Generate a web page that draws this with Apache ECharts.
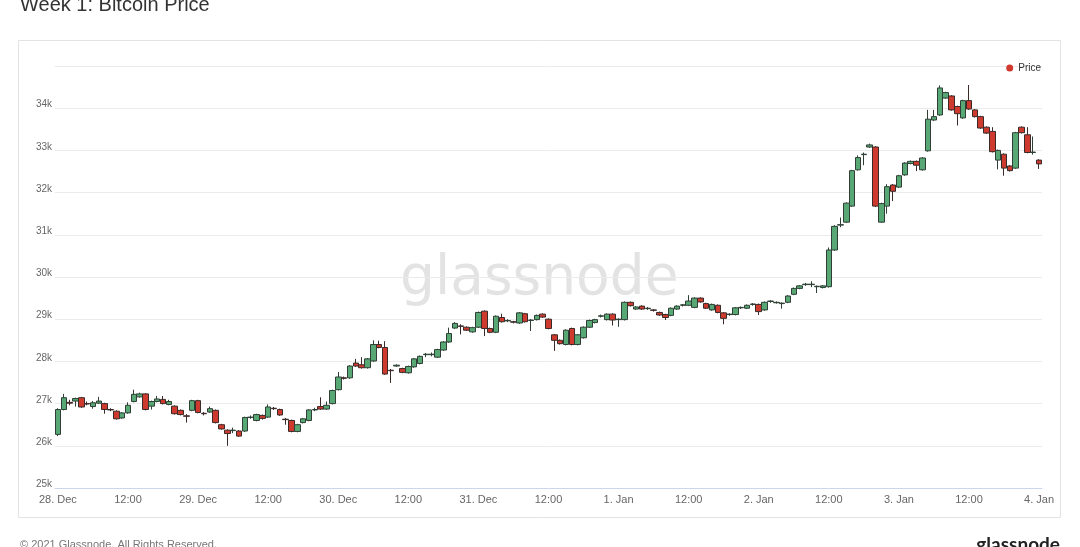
<!DOCTYPE html>
<html><head><meta charset="utf-8">
<script src="https://cdn.jsdelivr.net/npm/echarts@6/dist/echarts.min.js"></script>
<style>html,body{margin:0;padding:0;background:#fff;}#c{width:1080px;height:547px;}</style>
</head><body><div id="c"></div>
<script>
// Hourly candles from 28 Dec 00:00 to 4 Jan 00:00
const tickLabels = ['28. Dec','12:00','29. Dec','12:00','30. Dec','12:00','31. Dec','12:00','1. Jan','12:00','2. Jan','12:00','3. Jan','12:00','4. Jan'];
const opens = [26270,26860,27030,27060,27140,27000,26930,27010,27000,26860,26820,26660,26780,27050,27160,27230,26940,27050,27100,26980,
26940,26840,26710,26840,27070,26770,26800,26840,26500,26370,26360,26350,26350,26670,26600,26720,26680,26890,26860,26630,
26600,26340,26550,26600,26850,26930,26870,27000,27330,27610,27610,27960,27920,27850,28010,28400,28330,27790,27890,27830,
27730,27870,27950,28160,28160,28100,28270,28460,28790,28840,28810,28700,28810,29190,28780,28690,29040,28960,28940,28910,
29130,28970,28990,29120,29000,28630,28500,28400,28780,28400,28560,28810,28920,29070,28990,29120,28990,28990,29400,29240,
29310,29250,29220,29160,29110,29090,29240,29330,29330,29280,29500,29370,29220,29330,29150,29110,29110,29270,29260,29350,
29350,29220,29420,29390,29370,29400,29590,29730,29820,29820,29770,29750,29770,30640,31230,31300,31680,32540,32900,33080,
33080,31300,31680,32180,32130,32420,32690,32740,32540,32990,33720,33840,34240,34290,34040,33770,34180,33960,33800,33550,
33450,32770,32910,32630,32580,33550,33370,32950,32770];
const closes = [26860,27140,27010,27120,26920,26990,27020,27060,26860,26850,26640,26780,26960,27220,27230,26860,27050,27110,27000,27050,
26760,26740,26700,27070,26790,26760,26880,26550,26400,26290,26370,26230,26670,26680,26740,26650,26920,26880,26730,26620,
26340,26500,26640,26850,26860,26870,26960,27310,27630,27600,27890,27890,27850,28060,28400,28330,27700,27780,27910,27740,
27880,28060,28120,28170,28170,28280,28460,28660,28900,28830,28740,28800,29160,28780,28690,29070,28940,28970,28930,29150,
28940,28980,29090,29050,28780,28500,28420,28740,28400,28630,28810,28970,28990,29080,29120,28980,29000,29400,29320,29290,
29240,29260,29210,29100,29040,29260,29310,29340,29430,29500,29410,29260,29350,29160,29020,29120,29270,29280,29330,29360,
29180,29400,29430,29400,29380,29550,29730,29790,29830,29830,29780,29790,30640,31200,31240,31750,32520,32830,32910,33130,
31680,31740,32140,32030,32400,32700,32740,32650,32820,33740,33800,34480,34370,33960,33870,34180,33980,33800,33530,33410,
32970,33000,32580,32520,33420,33420,32950,32960,32680];
const lows = [26230,26840,26960,26930,26900,26960,26880,26990,26760,26820,26620,26640,26760,27030,27140,26840,26860,27030,26980,26960,
26740,26720,26550,26820,26770,26720,26780,26530,26380,26000,26300,26210,26330,26640,26580,26620,26660,26850,26710,26500,
26320,26320,26530,26580,26820,26850,26850,26980,27310,27570,27590,27870,27830,27830,27990,28310,27680,27490,27870,27720,
27710,27850,27930,28100,28120,28080,28250,28440,28770,28640,28720,28680,28790,28600,28670,28670,28920,28930,28900,28890,
28920,28720,28970,29030,28760,28250,28400,28380,28380,28380,28540,28790,28900,29040,28970,28850,28820,28970,29300,29220,
29220,29220,29180,29080,28980,29070,29220,29300,29310,29260,29390,29240,29200,29140,28880,29080,29090,29240,29240,29320,
29100,29200,29390,29370,29250,29380,29570,29710,29790,29760,29620,29730,29750,30620,31180,31280,31660,32520,32650,33060,
31660,31280,31500,31800,32110,32400,32670,32510,32520,32970,33700,33820,34220,33940,33590,33750,33960,33780,33510,33390,
32950,32550,32400,32500,32560,33400,32930,32900,32560];
const highs = [26890,27230,27090,27140,27160,27050,27060,27160,27020,26890,26840,26800,27030,27330,27260,27250,27070,27180,27180,27090,
26960,26860,26750,27090,27090,26800,26930,26860,26520,26390,26430,26370,26690,26720,26760,26740,26980,26920,26880,26660,
26620,26520,26660,26870,26900,27150,27050,27330,27750,27640,27910,28060,28100,28080,28500,28490,28480,27820,27930,27850,
27900,28080,28140,28200,28210,28300,28480,28800,28930,28880,28830,28820,29180,29210,28800,29090,29130,29000,28960,29170,
29150,29000,29110,29140,29020,28650,28520,28760,28800,28650,28830,28990,29010,29110,29140,29140,29020,29420,29420,29310,
29330,29290,29240,29180,29130,29280,29330,29360,29570,29520,29520,29390,29370,29350,29170,29140,29290,29300,29350,29380,
29370,29420,29450,29420,29400,29570,29750,29810,29860,29900,29800,29810,30700,31230,31410,31770,32540,32880,32950,33160,
33100,31760,32200,32200,32420,32720,32760,32760,32840,33960,33960,34540,34390,34310,34060,34200,34550,33980,33820,33570,
33550,33020,32930,32650,33440,33570,33550,33330,32790];

const categories = [];
for (let i = 0; i < opens.length; i++) categories.push('h' + i);
const candleData = opens.map((o, i) => [o, closes[i], lows[i], highs[i]]);

const chart = echarts.init(document.getElementById('c'), null, {renderer: 'canvas'});
const FONT = 'Arial, "Liberation Sans", sans-serif';
chart.setOption({
  animation: false,
  backgroundColor: '#fff',
  textStyle: {fontFamily: FONT},
  graphic: [
    {type: 'text', left: 20, top: -5, z: 10, style: {text: 'Week 1: Bitcoin Price', fontSize: 20, fill: '#333', fontFamily: FONT}},
    {type: 'rect', shape: {x: 18.5, y: 40.5, width: 1042, height: 477}, style: {fill: 'none', stroke: '#e3e3e3', lineWidth: 1}, z: 0},
    {type: 'text', left: 400, top: 252, z: 0, style: {text: 'glassnode', fontSize: 55, fill: '#e3e3e3', fontFamily: '"DejaVu Sans", sans-serif'}},
    {type: 'text', left: 20, top: 539, style: {text: '\u00a9 2021 Glassnode. All Rights Reserved.', fontSize: 11, fill: '#777', fontFamily: FONT}},
    {type: 'text', right: 20, top: 535, style: {text: 'glassnode', fontSize: 19, fontWeight: 'bold', fill: '#222', fontFamily: 'Lato, sans-serif'}}
  ],
  legend: {
    show: true, right: 34, top: 58, icon: 'circle', itemWidth: 7, itemHeight: 7, itemGap: 4,
    textStyle: {fontSize: 10, color: '#333', fontFamily: FONT},
    data: [{name: 'Price', itemStyle: {color: '#d0392d', borderWidth: 0}}]
  },
  grid: {left: 55, right: 38, top: 66, bottom: 59, outerBoundsMode: 'none'},
  xAxis: {
    type: 'category', data: categories, boundaryGap: true,
    axisLine: {lineStyle: {color: '#ccd6eb'}}, axisTick: {show: false},
    splitLine: {show: false},
    axisLabel: {
      interval: (idx) => idx % 12 === 0,
      formatter: (v, idx) => tickLabels[idx / 12] || '',
      color: '#666', fontSize: 11, margin: 6, fontFamily: FONT
    }
  },
  yAxis: {
    type: 'value', min: 25000, max: 35000, interval: 1000,
    axisLine: {show: false}, axisTick: {show: false},
    splitLine: {lineStyle: {color: '#ebebeb'}},
    axisLabel: {
      showMaxLabel: false, color: '#666', fontSize: 10, margin: 3,
      verticalAlign: 'bottom', lineHeight: 7,
      formatter: (v) => (v / 1000) + 'k', fontFamily: FONT
    }
  },
  series: [{
    name: 'Price', type: 'candlestick', data: candleData, barWidth: 6, z: 3,
    itemStyle: {color: '#57a874', color0: '#cf3a2e', borderColor: '#2f3f35', borderColor0: '#3a2a28', borderWidth: 1, borderColorDoji: '#333'}
  }]
});
</script></body></html>
